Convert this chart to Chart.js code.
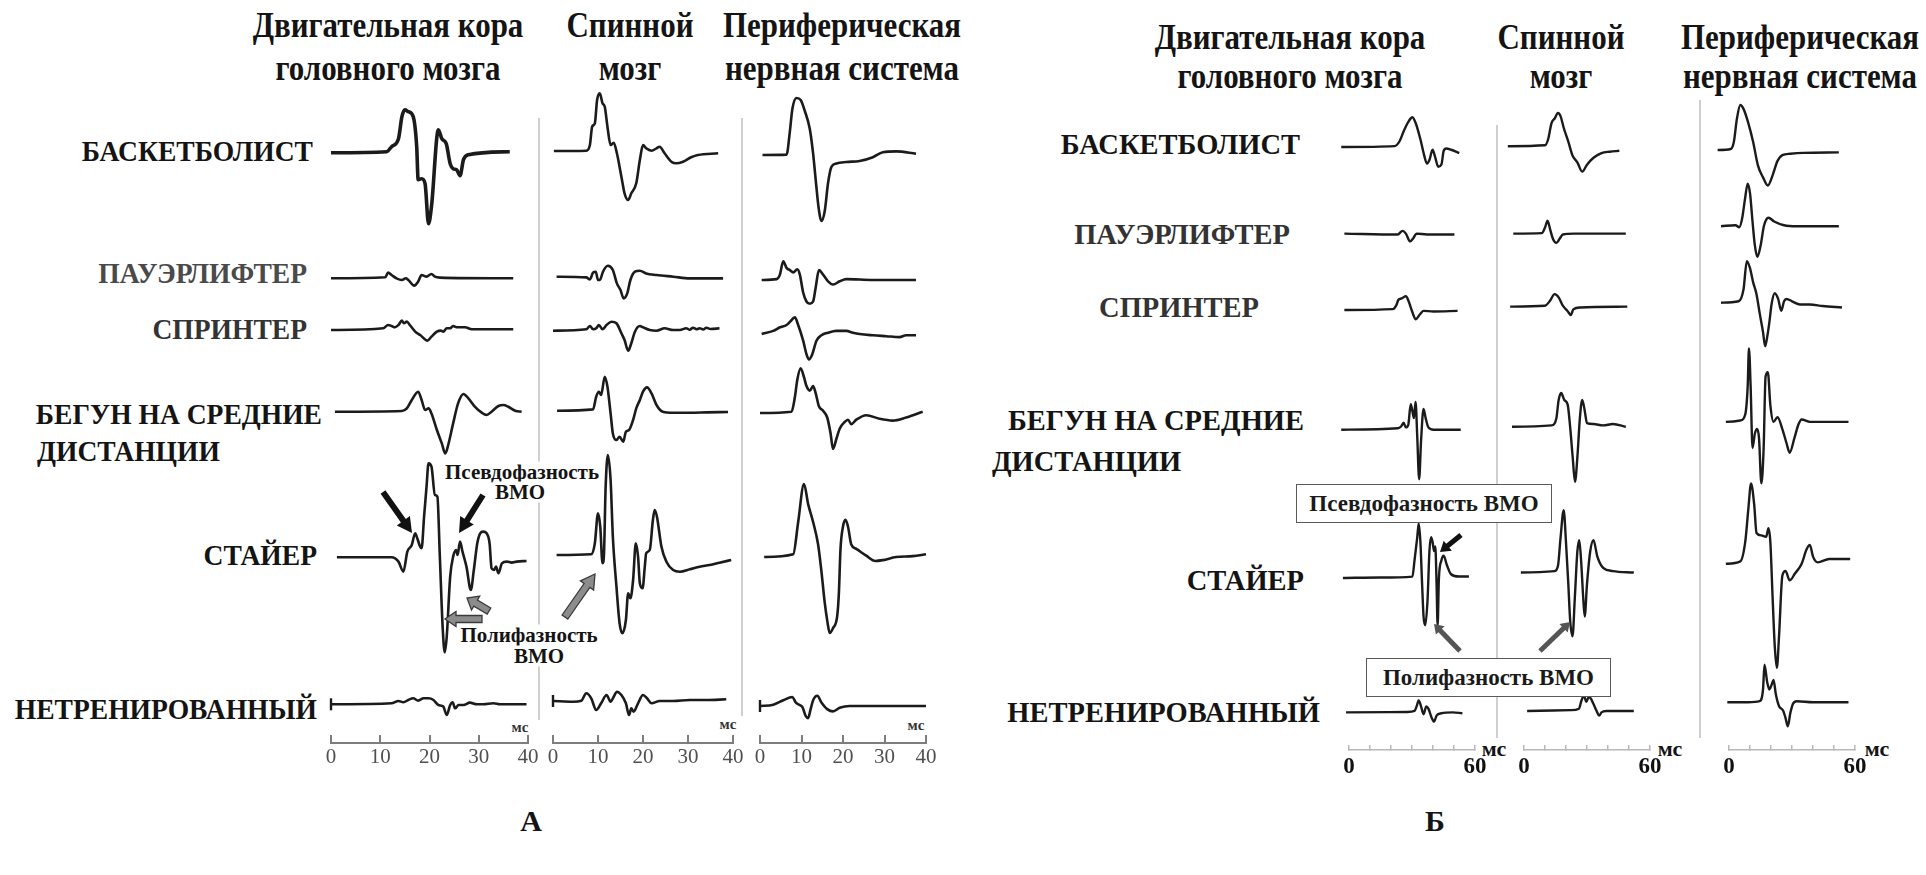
<!DOCTYPE html>
<html>
<head>
<meta charset="utf-8">
<script src="https://cdn.jsdelivr.net/npm/chart.js@4.4.1/dist/chart.umd.min.js"></script>
<style>
  html, body { margin: 0; padding: 0; background: #fff; }
  #page { position: relative; width: 1926px; height: 875px; overflow: hidden; background: #fff;
          font-family: "Liberation Serif", "Times New Roman", serif; }
  .txt { position: absolute; white-space: nowrap; line-height: 1; font-weight: bold; color: #141414; z-index: 1; }
  .note { background: #fff; padding: 0 2px; }
  .box { position: absolute; border: 1.6px solid #5a5a5a; background: #fff; z-index: 3;
         display: flex; align-items: center; justify-content: center; font-weight: bold; font-size: 23px; color: #1a1a1a; }
  canvas { position: absolute; top: 0; z-index: 2; }
  svg { position: absolute; left: 0; top: 0; }
</style>
</head>
<body>
<div id="page">
  <svg id="under" width="1926" height="875" style="z-index:0"></svg>
  <svg id="over" width="1926" height="875" style="z-index:4"></svg>
</div>
<script>
// ---- data: time (ms) / amplitude pairs ----
const ticksA = [0, 10, 20, 30, 40];
const ticksB = [0, 10, 20, 30, 40, 50, 60];
const labelledB = [0, 60];
const calibBar = [-6, 6];

const athletes = ['БАСКЕТБОЛИСТ', 'ПАУЭРЛИФТЕР', 'СПРИНТЕР', 'БЕГУН НА СРЕДНИЕ', 'ДИСТАНЦИИ', 'СТАЙЕР', 'НЕТРЕНИРОВАННЫЙ'];
const levels = [['Двигательная кора', 'головного мозга'], ['Спинной', 'мозг'], ['Периферическая', 'нервная система']];

// panel A, motor cortex
const aCortexBasket = [[0,0],[11.3,1],[12.3,6],[13.7,14],[14.4,36],[15,43],[15.7,41],[16.7,36],[17.4,6],[17.7,-27],[18.4,-26],[19.1,-31],[19.8,-71],[20.4,-54],[21.8,23],[22.5,14],[23.4,9],[24.2,-11],[24.8,-16],[25.5,-17],[26.2,-23],[26.9,-7],[27.9,-2],[36.3,1]];
const aCortexPower = [[0,0],[11,1],[11.6,5.7],[12.3,3.3],[13.3,0],[14.4,-1.7],[15.2,0],[15.7,-1.7],[16.9,-7.3],[17.7,-3.3],[18.4,3.3],[19.4,1.7],[20.4,4.3],[21.1,1.7],[22.1,0.7],[37,0]];
const aCortexSprint = [[0,-0.7],[10.6,1],[11.6,4.3],[12.3,3.3],[13,2],[13.7,4.3],[14.4,8.7],[14.8,6],[15.4,7.7],[16,4.3],[17.1,-2.3],[18.1,-5.7],[19.6,-11.3],[20.4,-7.3],[21.5,-2.3],[22.3,-1.3],[22.8,-2.3],[23.5,1],[24.2,1],[24.8,3.3],[25.5,2],[27.2,2],[28.6,0],[37,0]];
const aCortexMiddle = [[0.8,0],[14.4,0.7],[15.4,3.3],[16.4,11.7],[17.7,20],[18.4,11.7],[19.1,1.7],[19.8,3.3],[20.4,-1.7],[21.5,-18.3],[22.5,-31.7],[23.2,-41.7],[23.8,-33.3],[24.8,-11.7],[25.8,8.3],[26.9,17.7],[27.9,13.3],[29.2,5],[30.6,-1],[31.6,-3.3],[32.6,0],[34,5.7],[35,6.7],[36,5],[37.4,1],[38.7,0]];
const aCortexStayer = [[1.2,0],[12.3,0],[13.7,-4.3],[14.7,-14.3],[15.5,5.7],[16.4,12.3],[17.1,24],[17.4,20.7],[18.1,10.7],[18.4,9],[18.9,40.7],[19.4,70.7],[19.8,94],[20.4,90.7],[21.1,62.3],[21.6,60.7],[22.1,0.7],[22.7,-72.7],[23.1,-95],[23.5,-79.3],[24.2,-19.3],[24.8,0.7],[25.4,7.3],[25.7,2.3],[26.2,15.7],[26.7,5.7],[27.5,-9.3],[28.4,-32.7],[29,-12.7],[29.7,14],[30.3,24],[30.9,25.7],[31.6,24],[32.2,14],[32.6,-11],[33.1,-12.7],[33.5,-9.3],[34,-16],[34.7,-6],[35.7,-4.3],[36.7,-5.3],[37.7,-4.3],[39.7,-3.7]];
const aCortexUntrained = [[0,0],[12.3,1],[13.7,3.3],[14.7,2],[15.7,4.3],[16.7,6],[17.7,3.7],[18.8,6],[19.8,6],[20.8,4.3],[21.8,-0.7],[22.8,-2.3],[23.5,-10.7],[24.2,-0.7],[24.7,2],[25.2,-4],[25.9,-0.7],[26.9,-0.7],[28.2,1.7],[29.6,0],[30.9,0],[33,1],[34.3,0],[39.7,0]];

// panel A, spinal cord
const aSpinalBasket = [[0.2,0],[7.4,0.3],[8.2,6],[8.7,24.3],[9.3,27.7],[9.8,51],[10.4,57.7],[11,47.7],[11.5,44.3],[12.1,24.3],[12.8,6],[13.5,8.3],[14.2,-2.3],[15.2,-25.7],[15.9,-42.3],[16.7,-49],[17.4,-42.3],[18.5,-32.3],[19.3,-9],[20,6],[20.7,2.7],[21.9,0.3],[23,2.7],[23.7,4.3],[24.8,-2.3],[26.3,-10.7],[27.4,-12.3],[28.9,-10.7],[30.7,-6.3],[32.2,-4],[36.7,-2.3]];
const aSpinalPower = [[0.8,0],[7.4,-0.7],[8.2,-2.7],[8.9,4],[9.5,5],[10,-3.3],[10.5,-2.7],[11.1,5],[12.2,11],[13.3,6.7],[14.2,-6.7],[15,-13.3],[15.7,-21.7],[16.5,-16.7],[17.2,-3.3],[18.2,5],[19.3,6],[20.7,3.3],[23,1.7],[26.7,0],[30.4,-1.7],[37.8,-1.7]];
const aSpinalSprint = [[0,-0.7],[7.4,0.7],[8.2,4],[8.9,0.7],[9.6,1.7],[10.2,5],[11,0.7],[11.9,5],[13,8.3],[14.1,6.7],[15.2,-3.3],[15.9,-10],[16.7,-20.7],[17.4,-13.3],[18.2,-1.7],[19.3,4],[20,2.7],[21.5,0],[23,-0.7],[24.8,1.7],[26.7,0],[28.2,0],[29.6,1.7],[30.4,0.3],[31.1,2.3],[31.9,0.8],[32.6,1.7],[33.4,0.5],[34.1,2.3],[35,1],[37,1.7]];
const aSpinalMiddle = [[0.9,0],[8.9,1.3],[9.6,14],[10.2,19],[10.7,15.7],[11.5,34],[12.1,24],[12.8,-2.7],[13.3,-22.7],[14.1,-29.3],[14.8,-26],[15.6,-31],[16.2,-21],[16.9,-19.3],[17.8,-9.3],[18.5,2.3],[19.3,10.7],[20,19],[20.9,23.3],[21.9,17.3],[23,5.7],[24.4,-1],[26.7,-2],[30.4,-2],[34.1,-1.7],[38.9,-1.3]];
const aSpinalStayer = [[0.8,0],[8.5,0.7],[9.3,11.7],[10,41.7],[10.5,28.3],[11,-8.3],[11.3,-1.7],[11.7,68.3],[12.2,100],[12.8,75],[13.3,18.3],[14.1,-31.7],[14.8,-68.3],[15.4,-78.3],[16.2,-65],[16.7,-38.3],[17.2,-43.3],[17.8,-25],[18.4,11.7],[18.9,-1.7],[19.3,-28.3],[19.9,-33.3],[20.4,-11.7],[20.7,1.7],[21.5,5],[22.2,35],[22.6,45],[23.1,38.3],[24.1,8.3],[25.2,-6.7],[26.7,-15],[28.2,-16.7],[30.4,-14.3],[32.6,-11.7],[34.8,-10],[37,-7.7],[39.6,-5]];
const aSpinalUntrained = [[0,0],[4.5,-0.7],[6.3,0.3],[7.4,7.7],[8.5,2.7],[9.6,-9],[10.7,-2.3],[11.9,6],[12.8,-0.7],[13.5,4.3],[14.2,9.3],[15.2,6],[16.2,-2.3],[16.9,-14],[17.4,-7.3],[17.9,-10.7],[18.9,-2.3],[20,6],[20.9,2.7],[21.9,-2.3],[23.7,0],[26.7,0],[30.4,1],[34.1,1],[38.5,1.7]];

// panel A, peripheral nerve
const aPeriphBasket = [[0.6,0],[6.4,0.4],[7.2,23.7],[7.8,46],[8.8,57],[9.8,55],[10.8,44],[12,26],[12.8,1.3],[13.4,-24],[14.1,-52],[14.8,-66],[15.6,-56],[16.4,-28],[17.2,-12],[18.4,-8.5],[20.8,-7],[24,-6],[27.2,-2.2],[29.6,2.7],[32.8,3.6],[37.6,1.3]];
const aPeriphPower = [[0.4,0],[4,0.9],[4.8,5.4],[5.6,18.8],[6.4,12.1],[7.2,9.9],[8,7.6],[9,10.8],[9.6,5.4],[10.4,-12.5],[11.2,-21.5],[12,-23.7],[12.8,-21.5],[13.4,-8],[14.2,9.9],[15.2,5.4],[16.4,-1.3],[17.6,-4.5],[19.2,-1.3],[20.8,0.9],[27.2,0],[37.6,0]];
const aPeriphSprint = [[0.4,0],[3.2,3.1],[4.8,6.7],[6.4,9],[7.2,12.1],[8.4,16.6],[9.2,9],[10.4,-6.7],[11.2,-20.2],[11.8,-25.5],[12.6,-20.2],[13.6,-6.7],[14.8,-1.3],[16.4,1.3],[18.4,3.1],[20.8,3.1],[22.4,1.3],[24,0],[27.2,-1.3],[30.4,-2.2],[33.6,-3.1],[35.2,-1.3],[37.6,-1.3]];
const aPeriphMiddle = [[0,0],[7.6,1.3],[8.4,15.7],[9,33.6],[9.8,44.8],[10.6,35.8],[11.2,26.9],[12,22.4],[12.8,26.9],[13.4,20.2],[14.2,6.7],[15.2,2.2],[16.2,-4.5],[17,-20.2],[17.6,-36],[18.4,-26],[19.2,-15.7],[20.4,-9],[21.2,-6.7],[22,-11.2],[23.2,-6.7],[25.6,-2.2],[28.8,-5.8],[32,-7.6],[35.2,-4.5],[39.2,1.3]];
const aPeriphStayer = [[1,0],[8,2.7],[9.2,35],[10.6,73],[11.6,52.9],[12.8,35],[14,12.5],[14.8,-14.3],[15.6,-45.7],[16.2,-63.6],[16.8,-76],[17.6,-71],[18.6,-59.1],[19,-36.7],[19.4,8.1],[20,30.5],[20.6,37.2],[21.2,30.5],[22,12.5],[23.2,8.1],[25.6,1.3],[27.8,-4],[29.6,-3.1],[32.8,0],[36.8,0.9],[40,2.7]];
const aPeriphUntrained = [[0,0],[3.2,1.3],[5.6,5.8],[7.8,9],[8.6,3.6],[9.4,1.3],[10.2,-0.9],[11,-9.9],[11.6,-12.1],[12.2,-3.1],[12.8,5.8],[13.8,10.3],[14.8,3.6],[16.2,-3.1],[17.6,-5.4],[19.2,-1.8],[21.6,0],[28.8,0],[40,0]];

// panel Б, motor cortex
const bCortexBasket = [[-3.7,0],[21.7,0.8],[24,5],[26.3,15.5],[28.6,24],[30.2,27],[31.7,22],[34,7],[35.8,-7.6],[37.1,-15],[38.3,-11.8],[39.8,-2.5],[41.1,-9.7],[42.5,-18],[44,-16],[45.1,-3.4],[46.3,-1.3],[48.6,-2.5],[52.5,-5.5]];
const bCortexPower = [[-2.2,0],[23.2,-0.8],[25.5,2.5],[27.1,0],[29.1,-7.1],[30.6,-4.2],[32.2,0],[37.1,-0.8],[50.2,-0.8]];
const bCortexSprint = [[-2.2,0],[20.9,0.8],[22.5,4.2],[23.5,9.2],[25.1,10.5],[27.1,12.6],[28.3,8.4],[30.2,-2.1],[31.7,-8.4],[34,-3.4],[35.5,-0.8],[40.2,-1.3],[51.7,-0.8]];
const bCortexMiddle = [[-3.7,0],[23.2,1.3],[24.8,2.9],[26,6.3],[27.1,2.1],[28.2,4.2],[29.4,23.1],[30.2,16.8],[30.9,10.5],[31.7,25.2],[32.5,-6.3],[33.4,-45],[34.3,-10.5],[35.5,18.9],[36.5,10.5],[37.8,2.1],[40.2,0],[53.2,0]];
const bCortexStayer = [[-2.9,0],[15,0.4],[30.2,1.3],[31.2,16],[32.5,37],[33.2,49.6],[34,32.8],[34.8,-5],[35.5,-35],[36.3,-43],[37.4,-20],[38.3,24.4],[39.1,37],[39.8,32.8],[40.5,24.4],[41.1,28.6],[41.7,-5],[42.2,-43],[42.8,-0.8],[44,16],[45.1,20.2],[46.6,11.8],[48.6,3.4],[52.5,1.3],[57.1,1.3]];
const bCortexUntrained = [[-1.4,0],[27.8,0.4],[31.2,1.3],[32.2,5.5],[33.2,10.9],[34.3,5.5],[35.5,-1.7],[36.8,5.5],[37.8,3.4],[39.4,-5],[40.5,-8.4],[41.7,-2.9],[44,-0.8],[49.4,0],[54,-0.8]];

// panel Б, spinal cord
const bSpinalBasket = [[-7.7,0],[10,0.8],[11.5,6.3],[13.1,21],[14.6,25.2],[16.2,30.2],[17.4,27.3],[18.9,16.8],[21.1,4.2],[23.1,-8.4],[25.4,-14.7],[27.7,-23.1],[30,-16.8],[33.1,-10.5],[36.9,-6.3],[40.8,-5],[45.4,-4.2]];
const bSpinalPower = [[-5.1,0],[8.5,0.4],[10,5.5],[11.2,11.8],[12.5,3.4],[13.8,-5],[15.4,-8.4],[16.9,-5],[18.5,-0.8],[23.8,0],[48.5,0]];
const bSpinalSprint = [[-6.6,0],[10,0.8],[12.3,5],[14.6,11.3],[16.5,8.4],[18.5,0.8],[20.8,-4.2],[22.3,-7.6],[23.5,-2.5],[26.9,-0.8],[49.2,0]];
const bSpinalMiddle = [[-5.7,0],[13.1,1.3],[15.4,7.6],[16.5,24.4],[17.7,30.7],[19.2,24.4],[20.8,20.2],[22,-0.8],[23.2,-28],[24.3,-50],[25.4,-28],[26.6,7.6],[27.7,24.4],[28.8,16],[30,3.4],[33.1,2.5],[37.7,1.3],[42.3,2.5],[48.5,0]];
const bSpinalStayer = [[-1.5,0],[14.6,1.3],[16.2,6.3],[17.4,31.5],[18.9,56.7],[20,27.3],[21.1,-10.5],[22,-44.1],[23.1,-58],[24.2,-23.1],[25.4,18.9],[26.3,29.4],[27.2,10.5],[28.2,-23.1],[28.9,-40],[30,-10.5],[31.5,18.9],[33.1,29.4],[34.9,14.7],[37.7,4.2],[42.3,1.3],[52.3,0]];
const bSpinalUntrained = [[1.5,0],[22.3,0.8],[26.2,2.1],[27.2,8.4],[28.5,13.9],[29.7,8.4],[30.8,12.6],[31.8,11.3],[33.1,6.3],[34.6,0],[35.8,-4.2],[36.9,-1.3],[39.2,0],[52.3,0]];

// panel Б, peripheral nerve
const bPeriphBasket = [[-5.4,0],[0.8,0.9],[2.3,7.3],[3.8,28.8],[5.4,40.9],[6.9,37.4],[9.2,24.5],[11.5,7.3],[13.8,-14.2],[16.2,-24.9],[18.5,-32.3],[20.8,-22.8],[23.1,-9.9],[25.4,-4.7],[29.2,-3.4],[35.4,-2.6],[52.3,-2.2]];
const bPeriphPower = [[-3.8,0],[3.1,0.9],[4.9,-0.9],[6.2,6.5],[7.7,25.8],[8.9,38.7],[10,30.1],[11.2,4.3],[12.3,-17.2],[13.5,-27.9],[15.1,-17.2],[16.6,0],[18.8,7.7],[21.5,4.3],[26.2,0.9],[32.3,0],[52.3,0]];
const bPeriphSprint = [[-3.8,0],[4.6,1.3],[6.9,12],[8.5,37.8],[10,31.4],[11.5,18.5],[13.1,7.7],[14.6,-9.5],[16.2,-26.7],[17.2,-39.6],[18.2,-31],[19.2,-18.1],[20.3,-0.9],[21.8,8.6],[23.4,3.4],[24.9,-7.3],[26.2,1.3],[27.4,3.4],[30,1.3],[33.8,-1.7],[38.5,-1.7],[44.6,-3],[53.8,-4.3]];
const bPeriphMiddle = [[-1.5,0],[5.4,1.3],[7.7,6.5],[8.9,32.3],[9.5,66.7],[10.3,32.3],[11.2,-23.7],[12.3,-10.8],[13.4,-6.5],[14.3,-15],[15.4,-55.9],[16.5,-23.7],[17.4,40.9],[18.5,45.2],[19.7,15],[21.2,0],[23.1,4.3],[25.4,-6.5],[27.4,-19.4],[28.9,-28],[31.1,-15],[33.1,-2.2],[34.6,2.2],[38.5,0],[47.7,0],[56.9,0]];
const bPeriphStayer = [[-1.5,0],[5.4,2.2],[7.7,19.4],[9.2,49.5],[10.5,73.1],[12,53.8],[13.1,28],[15.4,25.8],[17.7,24.5],[18.8,32.3],[19.7,19.4],[20.8,-32.3],[21.8,-75.3],[22.8,-94.6],[23.8,-66.7],[25.4,-10.8],[26.9,-6.5],[28.9,-15],[31.5,-8.6],[34.6,0],[36.9,12.9],[38.5,17.2],[40,6.5],[42.3,1.3],[47.7,4.3],[57.7,4.3]];
const bPeriphUntrained = [[-0.8,0],[9.2,0],[14.6,0.9],[16.2,11.6],[16.9,34],[18.2,18.1],[19.2,11.6],[20.3,15.9],[21.2,20.2],[22.3,7.3],[23.8,-3.4],[25.8,-7.7],[26.9,-14.2],[28,-21.9],[29.2,-9.9],[30.5,-1.3],[32.3,0.9],[40,0],[56.9,0]];

// ---- layout (page pixels) ----
const PAD_X = 30, AXIS_H = 40;
const SERIF = '"Liberation Serif", "Times New Roman", serif';

const styleA = { lineW: 2.6, axisColor: '#7d7d7d', axisW: 2, tickLen: 8, tickPad: 10, ticks: ticksA, labelled: ticksA,
                 font: { family: SERIF, size: 21, weight: 'normal' }, tickColor: '#505050', gain: 1 };
const styleB = { lineW: 2.4, axisColor: '#b8b8b8', axisW: 1.5, tickLen: 5, tickPad: 8, ticks: ticksB, labelled: labelledB,
                 font: { family: SERIF, size: 23, weight: 'bold' }, tickColor: '#111', gain: 1.1 };

const columns = [
  { st: styleA, x0: 331, x1: 528, xmax: 40, axisY: 743, calib: true, boldFirst: true,
    waves: [aCortexBasket, aCortexPower, aCortexSprint, aCortexMiddle, aCortexStayer, aCortexUntrained],
    base: [152.7, 278.3, 329.3, 411.7, 557.3, 704.3] },
  { st: styleA, x0: 553.3, x1: 733.3, xmax: 40, axisY: 743, calib: true,
    waves: [aSpinalBasket, aSpinalPower, aSpinalSprint, aSpinalMiddle, aSpinalStayer, aSpinalUntrained],
    base: [151, 276.7, 330, 410.7, 555, 701] },
  { st: styleA, x0: 760, x1: 926, xmax: 40, axisY: 743, calib: true,
    waves: [aPeriphBasket, aPeriphPower, aPeriphSprint, aPeriphMiddle, aPeriphStayer, aPeriphUntrained],
    base: [155, 280, 334, 413, 557, 706] },
  { st: styleB, x0: 1349, x1: 1475, xmax: 60, axisY: 750,
    waves: [bCortexBasket, bCortexPower, bCortexSprint, bCortexMiddle, bCortexStayer, bCortexUntrained],
    base: [147, 233.6, 310, 429.7, 578, 712.4] },
  { st: styleB, x0: 1524, x1: 1650, xmax: 60, axisY: 750,
    waves: [bSpinalBasket, bSpinalPower, bSpinalSprint, bSpinalMiddle, bSpinalStayer, bSpinalUntrained],
    base: [146.2, 233.6, 306.6, 426.8, 572.5, 711] },
  { st: styleB, x0: 1729, x1: 1855, xmax: 60, axisY: 750,
    waves: [bPeriphBasket, bPeriphPower, bPeriphSprint, bPeriphMiddle, bPeriphStayer, bPeriphUntrained],
    base: [150, 226.2, 302.7, 421.9, 563.8, 702.2] }
];

const page = document.getElementById('page');

function makeColumn(c) {
  const st = c.st;
  const cv = document.createElement('canvas');
  const W = Math.round(c.x1 - c.x0 + 2 * PAD_X), H = c.axisY + AXIS_H;
  cv.width = W; cv.height = H;
  cv.style.left = (c.x0 - PAD_X) + 'px';
  cv.style.width = W + 'px'; cv.style.height = H + 'px';
  page.appendChild(cv);

  const datasets = c.waves.map((wave, i) => ({
    data: wave.map(([t, v]) => ({ x: t, y: c.base[i] - v * st.gain })),
    borderColor: '#1b1b1b',
    borderWidth: (c.boldFirst && i === 0) ? 3.6 : st.lineW,
    pointRadius: 0, fill: false, clip: false,
    cubicInterpolationMode: 'monotone'
  }));
  if (c.calib) {
    const b = c.base[5];
    datasets.push({
      data: calibBar.map(v => ({ x: 0, y: b - v })),
      borderColor: '#1b1b1b', borderWidth: 2.4, pointRadius: 0, fill: false, clip: false, tension: 0
    });
  }

  new Chart(cv, {
    type: 'line',
    data: { datasets },
    options: {
      responsive: false, animation: false, devicePixelRatio: 1, events: [],
      layout: { padding: { left: PAD_X, right: PAD_X, top: 0, bottom: 0 } },
      plugins: { legend: { display: false }, tooltip: { enabled: false } },
      scales: {
        x: {
          type: 'linear', min: 0, max: c.xmax, position: 'bottom',
          afterBuildTicks: s => { s.ticks = st.ticks.map(v => ({ value: v })); },
          afterFit: s => { s.height = AXIS_H; },
          border: { display: true, color: st.axisColor, width: st.axisW },
          grid: { display: true, drawOnChartArea: false, drawTicks: true, tickLength: -st.tickLen,
                  color: st.axisColor, lineWidth: st.axisW },
          ticks: { autoSkip: false, maxRotation: 0, padding: st.tickPad, color: st.tickColor, font: st.font,
                   callback: v => st.labelled.includes(v) ? String(v) : '' }
        },
        y: { display: false, min: 0, max: c.axisY, reverse: true }
      }
    }
  });
}

function addText(t, x, y, size, anchor, extra) {
  extra = extra || {};
  const d = document.createElement('div');
  d.className = 'txt' + (extra.note ? ' note' : '');
  d.textContent = t;
  d.style.left = x + 'px';
  d.style.top = y + 'px';
  d.style.fontSize = size + 'px';
  if (extra.color) d.style.color = extra.color;
  const tx = anchor === 'r' ? '-100%' : anchor === 'l' ? '0' : '-50%';
  d.style.transformOrigin = anchor === 'r' ? '100% 50%' : anchor === 'l' ? '0 50%' : '50% 50%';
  d.style.transform = 'translate(' + tx + ', -50%)' + (extra.sx ? ' scaleX(' + extra.sx + ')' : '');
  page.appendChild(d);
}

// headers
[[388, 630, 842, 25, 68], [1290, 1561, 1800, 37, 76]].forEach(([c1, c2, c3, y1, y2]) => {
  [c1, c2, c3].forEach((cx, k) => {
    addText(levels[k][0], cx, y1, 36, 'c', { sx: 0.86 });
    addText(levels[k][1], cx, y2, 36, 'c', { sx: 0.86 });
  });
});

// row labels
const rowsA = [[313, 151, 'r'], [307, 273, 'r', '#4a4a4a'], [307, 329, 'r', '#333'], [322, 414, 'r'], [37, 451, 'l'], [317, 555, 'r'], [317, 709, 'r']];
const rowsB = [[1300, 144, 'r'], [1290, 234, 'r', '#333'], [1259, 307, 'r', '#333'], [1304, 420, 'r'], [992, 461, 'l'], [1304, 580, 'r'], [1320, 712, 'r']];
rowsA.forEach(([x, y, a, col], i) => addText(athletes[i], x, y, 29, a, { color: col, sx: 0.95 }));
rowsB.forEach(([x, y, a, col], i) => addText(athletes[i], x, y, 30, a, { color: col, sx: 0.95 }));

// annotations, panel A
addText('Псевдофазность', 522, 472, 21, 'c', { note: true });
addText('ВМО', 520, 492, 21, 'c', { note: true });
addText('Полифазность', 529, 635, 21, 'c', { note: true });
addText('ВМО', 539, 656, 21, 'c', { note: true });

// units
[[520, 727], [728, 724], [916, 725]].forEach(([x, y]) => addText('мс', x, y, 15, 'c', { color: '#333' }));
[[1494, 749], [1670, 749], [1877, 749]].forEach(([x, y]) => addText('мс', x, y, 22, 'c'));

// panel letters
addText('А', 531, 821, 30, 'c');
addText('Б', 1435, 821, 30, 'c');

// boxed notes, panel Б
function addBox(t, x1, y1, x2, y2) {
  const d = document.createElement('div');
  d.className = 'box';
  d.style.left = x1 + 'px'; d.style.top = y1 + 'px';
  d.style.width = (x2 - x1) + 'px'; d.style.height = (y2 - y1) + 'px';
  d.textContent = t;
  page.appendChild(d);
}
addBox('Псевдофазность ВМО', 1296, 484, 1550, 521);
addBox('Полифазность ВМО', 1366, 658, 1609, 695);

// separators
const NS = 'http://www.w3.org/2000/svg';
const under = document.getElementById('under');
[[539, 118, 720], [742, 118, 716], [1497, 125, 738], [1700, 100, 738]].forEach(([x, y1, y2]) => {
  const l = document.createElementNS(NS, 'line');
  l.setAttribute('x1', x); l.setAttribute('x2', x);
  l.setAttribute('y1', y1); l.setAttribute('y2', y2);
  l.setAttribute('stroke', '#c4c4c4'); l.setAttribute('stroke-width', 1.6);
  under.appendChild(l);
});

// arrows
const over = document.getElementById('over');
function arrow(x1, y1, x2, y2, shaft, head, headLen, fill, stroke) {
  const L = Math.hypot(x2 - x1, y2 - y1);
  const ux = (x2 - x1) / L, uy = (y2 - y1) / L, nx = -uy, ny = ux;
  const bx = x2 - ux * headLen, by = y2 - uy * headLen;
  const pts = [
    [x1 + nx * shaft / 2, y1 + ny * shaft / 2],
    [bx + nx * shaft / 2, by + ny * shaft / 2],
    [bx + nx * head / 2, by + ny * head / 2],
    [x2, y2],
    [bx - nx * head / 2, by - ny * head / 2],
    [bx - nx * shaft / 2, by - ny * shaft / 2],
    [x1 - nx * shaft / 2, y1 - ny * shaft / 2]
  ];
  const p = document.createElementNS(NS, 'polygon');
  p.setAttribute('points', pts.map(q => q[0].toFixed(1) + ',' + q[1].toFixed(1)).join(' '));
  p.setAttribute('fill', fill);
  if (stroke) { p.setAttribute('stroke', stroke); p.setAttribute('stroke-width', 1.3); }
  over.appendChild(p);
}
arrow(383, 492, 412, 533, 6, 16, 15, '#111');
arrow(483, 495, 459, 533, 6, 16, 15, '#111');
arrow(489, 611, 467, 598, 7, 16, 10, '#8c8c8c', '#3a3a3a');
arrow(482, 619, 445, 619, 7, 15, 11, '#8c8c8c', '#3a3a3a');
arrow(565, 617, 595, 574, 7, 16, 14, '#8c8c8c', '#3a3a3a');
arrow(1461, 535, 1440, 552, 5, 13, 10, '#111');
arrow(1460, 651, 1434, 624, 5, 12, 9, '#555');
arrow(1540, 651, 1570, 622, 5, 12, 9, '#555');

columns.forEach(makeColumn);
</script>
</body>
</html>
